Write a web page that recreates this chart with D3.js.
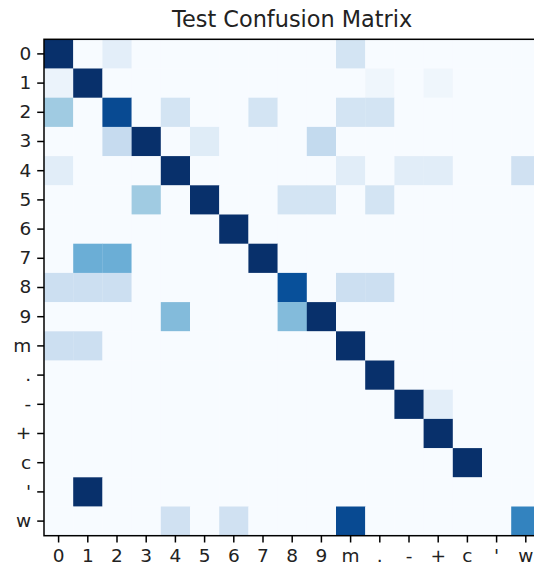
<!DOCTYPE html>
<html>
<head>
<meta charset="utf-8">
<script src="https://cdn.jsdelivr.net/npm/d3@7"></script>
<style>
  body { margin: 0; background: #fff; }
  svg { display: block; font-family: "DejaVu Sans", sans-serif; }
</style>
</head>
<body>
<svg id="cm" width="534" height="569"></svg>
<script>
// class labels (rows = true, columns = predicted)
const labels = ["0", "1", "2", "3", "4", "5", "6", "7", "8", "9", "m", ".", "-", "+", "c", "'", "w"];

// cell values (0..1 on the colour scale)
const row0  = [1, 0, 0.10, 0, 0, 0, 0, 0, 0, 0, 0.18, 0, 0, 0, 0, 0, 0];
const row1  = [0.06, 1, 0, 0, 0, 0, 0, 0, 0, 0, 0, 0.04, 0, 0.04, 0, 0, 0];
const row2  = [0.37, 0, 0.9, 0, 0.18, 0, 0, 0.18, 0, 0, 0.18, 0.18, 0, 0, 0, 0, 0];
const row3  = [0, 0, 0.25, 1, 0, 0.12, 0, 0, 0, 0.26, 0, 0, 0, 0, 0, 0, 0];
const row4  = [0.11, 0, 0, 0, 1, 0, 0, 0, 0, 0, 0.11, 0, 0.11, 0.11, 0, 0, 0.2];
const row5  = [0, 0, 0, 0.37, 0, 1, 0, 0, 0.18, 0.18, 0, 0.18, 0, 0, 0, 0, 0];
const row6  = [0, 0, 0, 0, 0, 0, 1, 0, 0, 0, 0, 0, 0, 0, 0, 0, 0];
const row7  = [0, 0.5, 0.5, 0, 0, 0, 0, 1, 0, 0, 0, 0, 0, 0, 0, 0, 0];
const row8  = [0.22, 0.22, 0.22, 0, 0, 0, 0, 0, 0.88, 0, 0.22, 0.22, 0, 0, 0, 0, 0];
const row9  = [0, 0, 0, 0, 0.44, 0, 0, 0, 0.44, 1, 0, 0, 0, 0, 0, 0, 0];
const rowM  = [0.22, 0.22, 0, 0, 0, 0, 0, 0, 0, 0, 1, 0, 0, 0, 0, 0, 0];
const rowDot = [0, 0, 0, 0, 0, 0, 0, 0, 0, 0, 0, 1, 0, 0, 0, 0, 0];
const rowDash = [0, 0, 0, 0, 0, 0, 0, 0, 0, 0, 0, 0, 1, 0.1, 0, 0, 0];
const rowPlus = [0, 0, 0, 0, 0, 0, 0, 0, 0, 0, 0, 0, 0, 1, 0, 0, 0];
const rowC  = [0, 0, 0, 0, 0, 0, 0, 0, 0, 0, 0, 0, 0, 0, 1, 0, 0];
const rowApos = [0, 1, 0, 0, 0, 0, 0, 0, 0, 0, 0, 0, 0, 0, 0, 0, 0];
const rowW  = [0, 0, 0, 0, 0.2, 0, 0.2, 0, 0, 0, 0.9, 0, 0, 0, 0, 0, 0.68];

const matrix = [row0, row1, row2, row3, row4, row5, row6, row7, row8, row9,
                rowM, rowDot, rowDash, rowPlus, rowC, rowApos, rowW];

const svg = d3.select("#cm");
const marginLeft = 44, marginTop = 39.3, cell = 29.2;
const size = cell * labels.length;

const x = d3.scaleBand().domain(labels).range([marginLeft, marginLeft + size]);
const y = d3.scaleBand().domain(labels).range([marginTop, marginTop + size]);

// matplotlib "Blues"
const blues = ["#f7fbff", "#deebf7", "#c6dbef", "#9ecae1", "#6baed6",
               "#4292c6", "#2171b5", "#08519c", "#08306b"];
const color = d3.scaleLinear()
  .domain(blues.map((_, i) => i / (blues.length - 1)))
  .range(blues)
  .interpolate(d3.interpolateRgb);

const cells = [];
matrix.forEach((row, i) => row.forEach((v, j) => cells.push({r: labels[i], c: labels[j], v})));

svg.append("g")
  .selectAll("rect")
  .data(cells)
  .join("rect")
  .attr("x", d => x(d.c))
  .attr("y", d => y(d.r))
  .attr("width", x.bandwidth() + 0.3)
  .attr("height", y.bandwidth() + 0.3)
  .attr("fill", d => color(d.v));

// frame
svg.append("rect")
  .attr("x", marginLeft).attr("y", marginTop)
  .attr("width", size).attr("height", size)
  .attr("fill", "none")
  .attr("stroke", "#000")
  .attr("stroke-width", 1.5);

const xAxis = svg.append("g")
  .attr("transform", `translate(0,${marginTop + size})`)
  .call(d3.axisBottom(x).tickSize(6.8).tickPadding(6));
const yAxis = svg.append("g")
  .attr("transform", `translate(${marginLeft},0)`)
  .call(d3.axisLeft(y).tickSize(6.8).tickPadding(6));

[xAxis, yAxis].forEach(a => {
  a.select(".domain").remove();
  a.selectAll("line").attr("stroke", "#000").attr("stroke-width", 1.5);
  a.selectAll("text")
    .attr("font-family", "DejaVu Sans, sans-serif")
    .attr("font-size", 18.5)
    .attr("fill", "#222");
});

svg.append("text")
  .attr("x", marginLeft + size / 2)
  .attr("y", 27)
  .attr("text-anchor", "middle")
  .attr("font-size", 22.4)
  .attr("fill", "#222")
  .text("Test Confusion Matrix");
</script>
</body>
</html>
